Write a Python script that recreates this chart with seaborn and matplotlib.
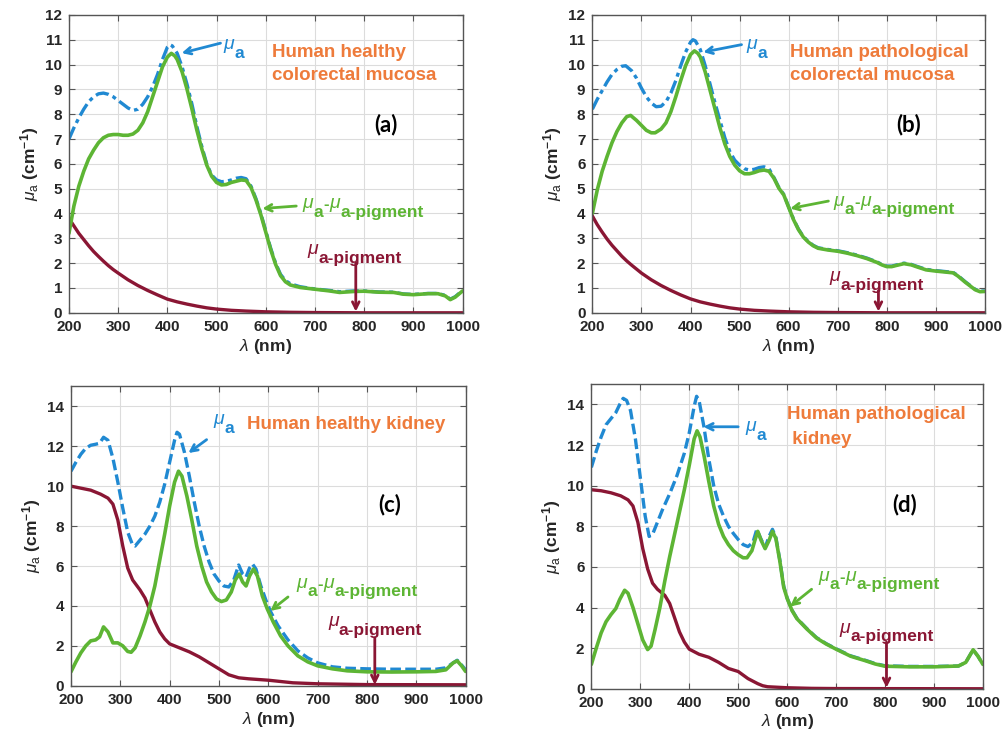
import matplotlib
matplotlib.use("Agg")
import matplotlib.pyplot as plt
import seaborn as sns

# ---------------- data ----------------
# (a) healthy colorectal mucosa
wl_a_mua = [200, 210, 220, 230, 240, 250, 260, 270, 280, 290, 300, 310, 320, 330, 340, 350, 360, 370, 380,
            390, 400, 405, 410, 420, 430, 440, 450, 460, 470, 480, 490, 500, 510, 520, 530, 540, 550, 560,
            570, 580, 590, 600, 610, 620, 630, 640, 650, 670, 700, 730, 750, 780, 800, 830, 860, 880, 900,
            930, 950, 965, 975, 985, 1000]
mua_a = [7.0, 7.45, 7.85, 8.2, 8.5, 8.7, 8.82, 8.85, 8.8, 8.7, 8.55, 8.4, 8.25, 8.15, 8.2, 8.4, 8.7, 9.1, 9.6,
         10.2, 10.7, 10.8, 10.75, 10.45, 9.9, 9.2, 8.4, 7.5, 6.7, 6.0, 5.55, 5.35, 5.28, 5.3, 5.35, 5.42, 5.45,
         5.4, 5.1, 4.6, 4.0, 3.3, 2.6, 2.0, 1.55, 1.3, 1.17, 1.05, 0.96, 0.9, 0.85, 0.88, 0.88, 0.84, 0.83,
         0.76, 0.74, 0.78, 0.78, 0.7, 0.55, 0.65, 0.9]
wl_a_diff = [200, 210, 220, 230, 240, 250, 260, 270, 280, 290, 300, 310, 320, 330, 340, 350, 360, 370, 380,
             390, 400, 408, 415, 420, 430, 440, 450, 460, 470, 480, 490, 500, 510, 520, 530, 540, 550, 560,
             570, 580, 590, 600, 610, 620, 630, 640, 650, 670, 700, 730, 750, 780, 800, 830, 860, 880, 900,
             930, 950, 965, 975, 985, 1000]
diff_a = [3.2, 4.3, 5.1, 5.7, 6.2, 6.55, 6.85, 7.05, 7.15, 7.18, 7.18, 7.15, 7.15, 7.2, 7.35, 7.65, 8.1, 8.7,
          9.3, 9.9, 10.3, 10.45, 10.35, 10.2, 9.7, 9.0, 8.2, 7.35, 6.6, 5.95, 5.5, 5.25, 5.15, 5.17, 5.25, 5.3,
          5.35, 5.33, 5.05, 4.55, 3.95, 3.25, 2.55, 1.95, 1.5, 1.25, 1.12, 1.02, 0.95, 0.88, 0.82, 0.86, 0.87,
          0.83, 0.82, 0.75, 0.73, 0.77, 0.77, 0.68, 0.53, 0.63, 0.88]
wl_a_pig = [200, 210, 220, 230, 240, 250, 260, 270, 280, 290, 300, 320, 340, 360, 380, 400, 420, 440, 460,
            480, 500, 530, 560, 600, 650, 700, 800, 1000]
pig_a = [3.8, 3.5, 3.2, 2.95, 2.7, 2.47, 2.27, 2.08, 1.9, 1.74, 1.6, 1.33, 1.1, 0.9, 0.72, 0.55, 0.44, 0.35,
         0.27, 0.2, 0.15, 0.1, 0.07, 0.04, 0.02, 0.01, 0.0, 0.0]

# (b) pathological colorectal mucosa
wl_b_mua = [200, 210, 220, 230, 240, 250, 260, 268, 280, 290, 300, 310, 320, 330, 340, 350, 360, 370, 380,
            390, 400, 405, 410, 420, 430, 440, 450, 460, 470, 480, 490, 500, 510, 520, 530, 540, 550, 560,
            570, 580, 590, 600, 610, 620, 630, 640, 650, 660, 680, 700, 720, 740, 760, 780, 790, 800, 810,
            820, 835, 850, 860, 880, 900, 920, 935, 945, 960, 980, 990, 1000]
mua_b = [8.2, 8.6, 8.95, 9.3, 9.6, 9.8, 9.93, 9.95, 9.75, 9.45, 9.05, 8.7, 8.45, 8.3, 8.32, 8.5, 8.85, 9.35,
         9.95, 10.5, 10.9, 11.0, 10.95, 10.6, 9.95, 9.2, 8.45, 7.75, 7.05, 6.5, 6.15, 5.95, 5.8, 5.75, 5.78,
         5.85, 5.88, 5.8, 5.45, 5.05, 4.77, 4.27, 3.77, 3.37, 3.07, 2.87, 2.72, 2.62, 2.55, 2.5, 2.42, 2.32,
         2.2, 2.05, 1.95, 1.88, 1.88, 1.93, 2.0, 1.95, 1.88, 1.75, 1.7, 1.66, 1.63, 1.5, 1.25, 0.95, 0.87, 0.88]
wl_b_diff = [200, 210, 220, 230, 240, 250, 260, 270, 278, 290, 300, 310, 320, 328, 340, 350, 360, 370, 380,
             390, 400, 408, 415, 420, 430, 440, 450, 460, 470, 480, 490, 500, 510, 520, 530, 540, 550, 560,
             570, 580, 590, 600, 610, 620, 630, 640, 650, 660, 680, 700, 720, 740, 760, 780, 790, 800, 810,
             820, 835, 850, 860, 880, 900, 920, 935, 945, 960, 980, 990, 1000]
diff_b = [4.0, 4.95, 5.7, 6.3, 6.85, 7.3, 7.65, 7.9, 7.95, 7.75, 7.55, 7.35, 7.25, 7.25, 7.4, 7.65, 8.1, 8.7,
          9.35, 9.95, 10.4, 10.55, 10.45, 10.3, 9.7, 8.95, 8.2, 7.45, 6.8, 6.3, 5.95, 5.72, 5.6, 5.6, 5.65,
          5.72, 5.75, 5.7, 5.42, 5.02, 4.75, 4.25, 3.75, 3.35, 3.05, 2.85, 2.7, 2.6, 2.53, 2.48, 2.4, 2.3,
          2.18, 2.03, 1.93, 1.86, 1.86, 1.91, 1.98, 1.93, 1.86, 1.73, 1.68, 1.64, 1.61, 1.48, 1.23, 0.93,
          0.85, 0.86]
wl_b_pig = [200, 210, 220, 230, 240, 250, 260, 270, 280, 290, 300, 320, 340, 360, 380, 400, 420, 440, 460,
            480, 500, 530, 560, 600, 650, 700, 800, 1000]
pig_b = [3.9, 3.55, 3.25, 2.97, 2.72, 2.5, 2.28, 2.09, 1.92, 1.76, 1.6, 1.33, 1.1, 0.9, 0.72, 0.56, 0.44,
         0.35, 0.27, 0.2, 0.15, 0.1, 0.07, 0.04, 0.02, 0.01, 0.0, 0.0]

# (c) healthy kidney
wl_c_mua = [200, 210, 220, 230, 240, 250, 258, 266, 275, 285, 295, 305, 315, 325, 330, 340, 350, 360, 370,
            380, 390, 400, 410, 415, 420, 430, 440, 450, 460, 470, 480, 490, 500, 510, 520, 530, 540, 548,
            555, 562, 568, 575, 585, 595, 605, 620, 640, 660, 680, 700, 730, 760, 800, 850, 900, 940, 960,
            975, 983, 990, 1000]
mua_c = [10.75, 11.2, 11.6, 11.9, 12.05, 12.1, 12.15, 12.45, 12.3, 11.4, 10.2, 8.9, 7.7, 7.05, 7.0, 7.3,
         7.6, 8.0, 8.5, 9.2, 10.1, 11.2, 12.3, 12.7, 12.6, 11.7, 10.5, 9.2, 8.0, 7.0, 6.2, 5.6, 5.25, 5.0,
         4.95, 5.3, 6.05, 5.6, 5.45, 5.9, 6.1, 5.85, 5.0, 4.3, 3.7, 3.0, 2.3, 1.75, 1.4, 1.15, 0.95, 0.88,
         0.85, 0.83, 0.83, 0.83, 0.9, 1.15, 1.28, 1.1, 0.8]
wl_c_diff = [200, 210, 220, 230, 240, 250, 258, 266, 275, 285, 295, 305, 315, 322, 330, 340, 350, 360, 370,
             380, 390, 400, 410, 418, 425, 435, 445, 455, 465, 475, 485, 495, 505, 515, 525, 533, 541, 548,
             555, 562, 570, 578, 588, 598, 610, 625, 640, 660, 680, 700, 730, 760, 800, 850, 900, 940, 960,
             975, 983, 992, 1000]
diff_c = [0.7, 1.2, 1.65, 2.0, 2.25, 2.3, 2.45, 2.95, 2.7, 2.15, 2.15, 2.0, 1.72, 1.68, 1.9, 2.5, 3.2, 4.0,
          5.0, 6.3, 7.6, 9.0, 10.2, 10.75, 10.5, 9.5, 8.3, 7.0, 6.0, 5.2, 4.7, 4.35, 4.22, 4.3, 4.7, 5.3,
          5.6, 5.2, 5.0, 5.5, 5.85, 5.5, 4.5, 3.85, 3.2, 2.5, 2.0, 1.5, 1.2, 1.0, 0.85, 0.75, 0.7, 0.69,
          0.7, 0.72, 0.8, 1.15, 1.25, 1.0, 0.72]
wl_c_pig = [200, 220, 240, 260, 275, 285, 295, 305, 315, 325, 340, 350, 360, 370, 380, 390, 400, 420, 440,
            460, 480, 500, 520, 540, 560, 600, 650, 700, 800, 1000]
pig_c = [10.0, 9.9, 9.8, 9.6, 9.4, 9.1, 8.3, 7.0, 5.9, 5.3, 4.8, 4.4, 3.8, 3.2, 2.7, 2.35, 2.1, 1.9, 1.7,
         1.45, 1.15, 0.85, 0.55, 0.4, 0.35, 0.28, 0.15, 0.1, 0.06, 0.05]

# (d) pathological kidney
wl_d_mua = [200, 210, 220, 230, 240, 250, 258, 265, 272, 280, 290, 300, 310, 318, 325, 335, 345, 360, 375,
            390, 400, 410, 415, 420, 430, 440, 450, 460, 470, 480, 490, 500, 510, 520, 530, 538, 546, 555,
            563, 570, 577, 585, 593, 600, 610, 620, 640, 660, 680, 700, 730, 760, 780, 800, 850, 900, 950,
            965, 980, 990, 1000]
mua_d = [10.9, 11.7, 12.4, 13.0, 13.3, 13.6, 14.0, 14.3, 14.2, 13.7, 12.3, 10.4, 8.5, 7.5, 7.6, 8.2, 8.8,
         9.6, 10.5, 11.6, 12.6, 13.9, 14.4, 14.2, 12.9, 11.3, 10.0, 9.1, 8.5, 8.0, 7.65, 7.35, 7.1, 7.0,
         7.2, 7.85, 7.4, 6.95, 7.5, 7.85, 7.45, 6.35, 5.05, 4.47, 3.87, 3.47, 2.97, 2.52, 2.22, 1.97, 1.62,
         1.4, 1.24, 1.13, 1.1, 1.1, 1.12, 1.3, 1.92, 1.6, 1.2]
wl_d_diff = [200, 210, 220, 230, 240, 250, 258, 268, 275, 285, 295, 305, 315, 322, 330, 340, 350, 360, 370,
             380, 390, 400, 410, 416, 422, 430, 440, 450, 460, 470, 480, 490, 500, 510, 518, 528, 534, 540,
             547, 555, 563, 570, 577, 585, 593, 600, 610, 620, 640, 660, 680, 700, 730, 760, 780, 800, 850,
             900, 950, 965, 980, 990, 1000]
diff_d = [1.2, 2.0, 2.75, 3.3, 3.65, 3.95, 4.4, 4.85, 4.7, 4.0, 3.2, 2.4, 1.93, 2.1, 2.9, 4.0, 5.3, 6.5, 7.6,
          8.7, 9.8, 11.0, 12.3, 12.7, 12.4, 11.5, 10.2, 9.0, 8.1, 7.5, 7.1, 6.8, 6.6, 6.45, 6.45, 6.8, 7.3,
          7.75, 7.3, 6.9, 7.3, 7.75, 7.4, 6.3, 5.0, 4.45, 3.85, 3.45, 2.95, 2.5, 2.2, 1.95, 1.6, 1.38, 1.22,
          1.11, 1.08, 1.08, 1.12, 1.3, 1.92, 1.6, 1.2]
wl_d_pig = [200, 220, 240, 260, 275, 285, 295, 305, 315, 325, 335, 350, 360, 370, 380, 390, 400, 420, 440,
            460, 480, 500, 520, 540, 550, 560, 600, 650, 700, 1000]
pig_d = [9.8, 9.75, 9.65, 9.5, 9.3, 9.0, 8.2, 6.9, 5.9, 5.2, 4.9, 4.6, 4.2, 3.5, 2.8, 2.3, 1.95, 1.7, 1.55,
         1.3, 1.0, 0.85, 0.5, 0.25, 0.15, 0.1, 0.05, 0.02, 0.01, 0.0]

panel_tags = ["(a)", "(b)", "(c)", "(d)"]
tissue_lines = [["Human healthy", "colorectal mucosa"],
                ["Human pathological", "colorectal mucosa"],
                ["Human healthy kidney"],
                ["Human pathological", " kidney"]]

# ---------------- style ----------------
BLUE = "#2089D2"
GREEN = "#5DB534"
RED = "#8A1634"
ORANGE = "#EE7B3B"

sns.set_theme(style="whitegrid")
plt.rcParams['font.family'] = ['Liberation Sans', 'DejaVu Sans']
plt.rcParams['mathtext.fontset'] = 'custom'
plt.rcParams['mathtext.rm'] = 'Liberation Sans'
plt.rcParams['mathtext.it'] = 'Liberation Sans:italic'
plt.rcParams['mathtext.bf'] = 'Liberation Sans:bold'

fig = plt.figure(figsize=(10.04, 7.43), dpi=100)

positions = [[0.0687, 0.579, 0.392, 0.401],
             [0.590, 0.579, 0.391, 0.401],
             [0.0707, 0.077, 0.393, 0.403],
             [0.589, 0.073, 0.390, 0.410]]

series = [(wl_a_mua, mua_a, wl_a_diff, diff_a, wl_a_pig, pig_a),
          (wl_b_mua, mua_b, wl_b_diff, diff_b, wl_b_pig, pig_b),
          (wl_c_mua, mua_c, wl_c_diff, diff_c, wl_c_pig, pig_c),
          (wl_d_mua, mua_d, wl_d_diff, diff_d, wl_d_pig, pig_d)]

# label / arrow placement per panel (data coords)
layout = [
    dict(ymax=12, yticks=range(0, 13), dash=[4, 1.3, 1.2, 1.3],
         mu=(514, 10.6), mu_arrow=((508, 10.86), (429, 10.46)),
         tissue=(613, [10.5, 9.55]), tag=(844, 7.6),
         diff=(674, 4.2), diff_arrow=((662, 4.3), (593, 4.2)),
         pig=(684, 2.35), pig_arrow=((783, 2.0), (783, 0.05))),
    dict(ymax=12, yticks=range(0, 13), dash=[4, 1.3, 1.2, 1.3],
         mu=(514, 10.6), mu_arrow=((504, 10.8), (426, 10.5)),
         tissue=(603, [10.5, 9.55]), tag=(844, 7.6),
         diff=(691, 4.3), diff_arrow=((681, 4.5), (603, 4.2)),
         pig=(684, 1.27), pig_arrow=((783, 0.9), (783, 0.05))),
    dict(ymax=15, yticks=range(0, 15, 2), dash=[3.2, 1.3],
         mu=(489, 13.1), mu_arrow=((475, 12.33), (438, 11.66)),
         tissue=(556, [13.08]), tag=(846, 9.07),
         diff=(657, 4.9), diff_arrow=((640, 4.45), (604, 3.75)),
         pig=(721, 2.97), pig_arrow=((816, 2.4), (816, 0.05))),
    dict(ymax=15, yticks=range(0, 15, 2), dash=[3.2, 1.3],
         mu=(514, 12.65), mu_arrow=((500, 12.9), (429, 12.9)),
         tissue=(600, [13.5, 12.25]), tag=(840, 9.05),
         diff=(664, 5.3), diff_arrow=((650, 4.9), (606, 4.05)),
         pig=(707, 2.75), pig_arrow=((803, 2.3), (803, 0.05))),
]

# pieces of the MATLAB-style labels: (text, kind)
mu_parts = [("\u03bc", "mu"), ("a", "sub")]
diff_parts = [("\u03bc", "mu"), ("a", "sub"), ("-", "sup"), ("\u03bc", "mu"), ("a-pigment", "sub")]
pig_parts = [("\u03bc", "mu"), ("a-pigment", "sub")]

piece_style = {"mu": dict(fontsize=14, fontstyle="italic", fontweight="normal", dy=0),
               "sub": dict(fontsize=12.5, fontstyle="normal", fontweight="bold", dy=-5.5),
               "sup": dict(fontsize=12, fontstyle="normal", fontweight="bold", dy=0)}


def draw_label(ax, x, y, parts, color):
    """Chain text pieces so subscripts sit at full size like the MATLAB original."""
    first = None
    prev = None
    for txt, kind in parts:
        st = piece_style[kind]
        if first is None:
            first = ax.annotate(txt, xy=(x, y), xycoords="data", xytext=(0, 3.5),
                                textcoords="offset points", ha="left", va="center",
                                color=color, fontsize=st["fontsize"],
                                fontstyle=st["fontstyle"], fontweight=st["fontweight"])
            prev = first
            continue
        prev = ax.annotate(txt, xy=(1, 0), xycoords=(prev, first), xytext=(0.3, st["dy"]),
                           textcoords="offset points", ha="left", va="bottom",
                           color=color, fontsize=st["fontsize"],
                           fontstyle=st["fontstyle"], fontweight=st["fontweight"])


for i in range(4):
    ax = fig.add_axes(positions[i])
    wl_m, mua, wl_d, diff, wl_p, pig = series[i]
    lo = layout[i]

    sns.lineplot(x=wl_m, y=mua, ax=ax, color=BLUE, linewidth=2.4, sort=False)
    ax.lines[-1].set_dashes(lo["dash"])
    sns.lineplot(x=wl_p, y=pig, ax=ax, color=RED, linewidth=2.4, sort=False)
    sns.lineplot(x=wl_d, y=diff, ax=ax, color=GREEN, linewidth=2.6, sort=False)

    ax.set_xlim(200, 1000)
    ax.set_ylim(0, lo["ymax"])
    ax.set_xticks(range(200, 1001, 100))
    ax.set_yticks(list(lo["yticks"]))
    ax.grid(True, color="#DCDCDC", linewidth=0.8)
    for sp in ax.spines.values():
        sp.set_color("#555555")
        sp.set_linewidth(1.0)
    ax.tick_params(which="both", direction="in", length=4, width=0.8, color="#555555",
                   bottom=True, left=True, top=True, right=True, pad=5,
                   labelsize=11, labelcolor="#262626")
    for lab in ax.get_xticklabels() + ax.get_yticklabels():
        lab.set_fontweight("bold")

    ax.set_xlabel(r'$\lambda$ (nm)', fontsize=12.5, fontweight="bold", color="#262626", labelpad=2)
    ax.set_ylabel(r'$\mu_{\mathrm{a}}$ (cm$^{\mathbf{-1}}$)', fontsize=12.5, fontweight="bold",
                  color="#262626", labelpad=3)

    arrow_kw = dict(arrowstyle="->", lw=2.0, mutation_scale=12, shrinkA=0, shrinkB=0)

    # mu_a label
    draw_label(ax, lo["mu"][0], lo["mu"][1], mu_parts, BLUE)
    ax.annotate("", xy=lo["mu_arrow"][1], xytext=lo["mu_arrow"][0],
                arrowprops=dict(color=BLUE, **arrow_kw))

    # tissue name
    for line, yy in zip(tissue_lines[i], lo["tissue"][1]):
        ax.text(lo["tissue"][0], yy, line, color=ORANGE, fontsize=13.5, fontweight="bold",
                ha="left", va="center")

    # panel tag
    ax.text(lo["tag"][0], lo["tag"][1], panel_tags[i], color="black", fontsize=16,
            fontweight="bold", family="Lato", ha="center", va="center")

    # difference label
    draw_label(ax, lo["diff"][0], lo["diff"][1], diff_parts, GREEN)
    ax.annotate("", xy=lo["diff_arrow"][1], xytext=lo["diff_arrow"][0],
                arrowprops=dict(color=GREEN, **arrow_kw))

    # pigment label
    draw_label(ax, lo["pig"][0], lo["pig"][1], pig_parts, RED)
    ax.annotate("", xy=lo["pig_arrow"][1], xytext=lo["pig_arrow"][0],
                arrowprops=dict(color=RED, **arrow_kw))

fig.savefig("out.png", dpi=100)
